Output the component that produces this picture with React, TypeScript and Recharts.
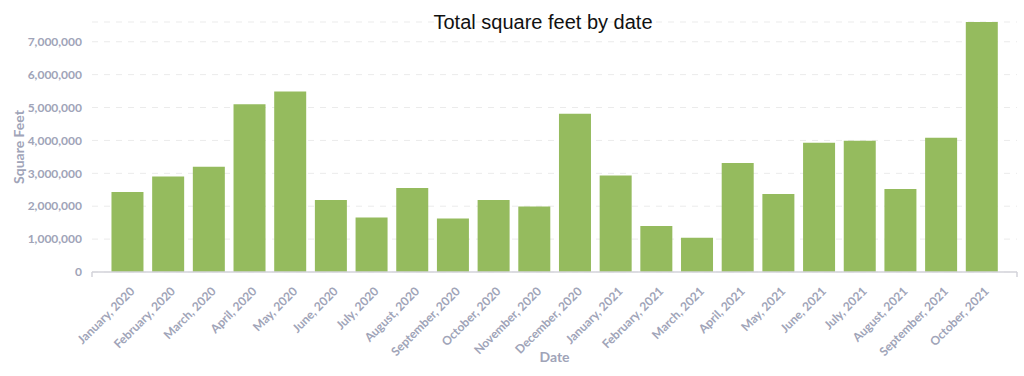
import React from 'react';
import { BarChart, Bar, XAxis, YAxis, CartesianGrid } from 'recharts';

const months = [
  'January, 2020', 'February, 2020', 'March, 2020', 'April, 2020', 'May, 2020', 'June, 2020',
  'July, 2020', 'August, 2020', 'September, 2020', 'October, 2020', 'November, 2020', 'December, 2020',
  'January, 2021', 'February, 2021', 'March, 2021', 'April, 2021', 'May, 2021', 'June, 2021',
  'July, 2021', 'August, 2021', 'September, 2021', 'October, 2021',
];

const squareFeet = [
  2430000, 2900000, 3200000, 5100000, 5490000, 2190000,
  1660000, 2550000, 1630000, 2190000, 1990000, 4810000,
  2930000, 1400000, 1040000, 3310000, 2370000, 3930000,
  3990000, 2520000, 4080000, 7600000,
];

const yTicks = [0, 1000000, 2000000, 3000000, 4000000, 5000000, 6000000, 7000000];

const data = months.map((m, i) => ({ month: m, value: squareFeet[i] }));

const AXIS_COLOR = '#a0a4b8';
const FONT = 'Lato, "Open Sans", sans-serif';

const XTick = (props: any) => {
  const { x, y, payload } = props;
  return (
    <text
      x={x + 2}
      y={y + 6}
      transform={`rotate(-45, ${x + 2}, ${y + 6})`}
      textAnchor="end"
      dy="0.71em"
      fill={AXIS_COLOR}
      fontFamily={FONT}
      fontWeight={700}
      fontSize={12}
    >
      {payload.value}
    </text>
  );
};

const YLabel = (props: any) => {
  const vb = props.viewBox || {};
  const cx = 18;
  const cy = vb.y + vb.height / 2;
  return (
    <text
      x={cx}
      y={cy}
      transform={`rotate(-90, ${cx}, ${cy})`}
      textAnchor="middle"
      dominantBaseline="central"
      fill={AXIS_COLOR}
      fontFamily={FONT}
      fontWeight={700}
      fontSize={14}
    >
      Square Feet
    </text>
  );
};

const XLabel = (props: any) => {
  const vb = props.viewBox || {};
  const cx = vb.x + vb.width / 2;
  return (
    <g>
      <line x1={vb.x} x2={vb.x} y1={vb.y} y2={vb.y + 5} stroke="#d3d3da" strokeWidth={1.5} />
      <line x1={vb.x + vb.width} x2={vb.x + vb.width} y1={vb.y} y2={vb.y + 5} stroke="#d3d3da" strokeWidth={1.5} />
      <text
        x={cx}
        y={362}
        textAnchor="middle"
        fill={AXIS_COLOR}
        fontFamily={FONT}
        fontWeight={700}
        fontSize={14}
      >
        Date
      </text>
    </g>
  );
};

export default function App() {
  return (
    <div style={{ position: 'absolute', left: 0, top: 0, width: 1024, height: 376, background: '#fff' }}>
      <BarChart
        width={1024}
        height={376}
        data={data}
        margin={{ top: 22, right: 7, bottom: 0, left: 0 }}
        barCategoryGap="11%"
      >
        <CartesianGrid vertical={false} stroke="#ebebeb" strokeDasharray="6 6" />
        <XAxis
          dataKey="month"
          interval={0}
          height={104}
          padding={{ left: 15, right: 15 }}
          tickLine={false}
          axisLine={{ stroke: '#d3d3da', strokeWidth: 1.5 }}
          tick={<XTick />}
          label={<XLabel />}
        />
        <YAxis
          width={92}
          domain={[0, 'dataMax']}
          ticks={yTicks}
          axisLine={false}
          tickLine={false}
          tickMargin={4}
          tick={{ fill: AXIS_COLOR, fontFamily: FONT, fontWeight: 700, fontSize: 12 }}
          tickFormatter={(v: number) => v.toLocaleString('en-US')}
          label={<YLabel />}
        />
        <Bar dataKey="value" fill="#95bb5e" isAnimationActive={false} />
        <text
          x={543}
          y={29}
          textAnchor="middle"
          fontFamily='"Liberation Sans", Arial, sans-serif'
          fontSize={20}
          fill="#111"
        >
          Total square feet by date
        </text>
      </BarChart>
    </div>
  );
}
